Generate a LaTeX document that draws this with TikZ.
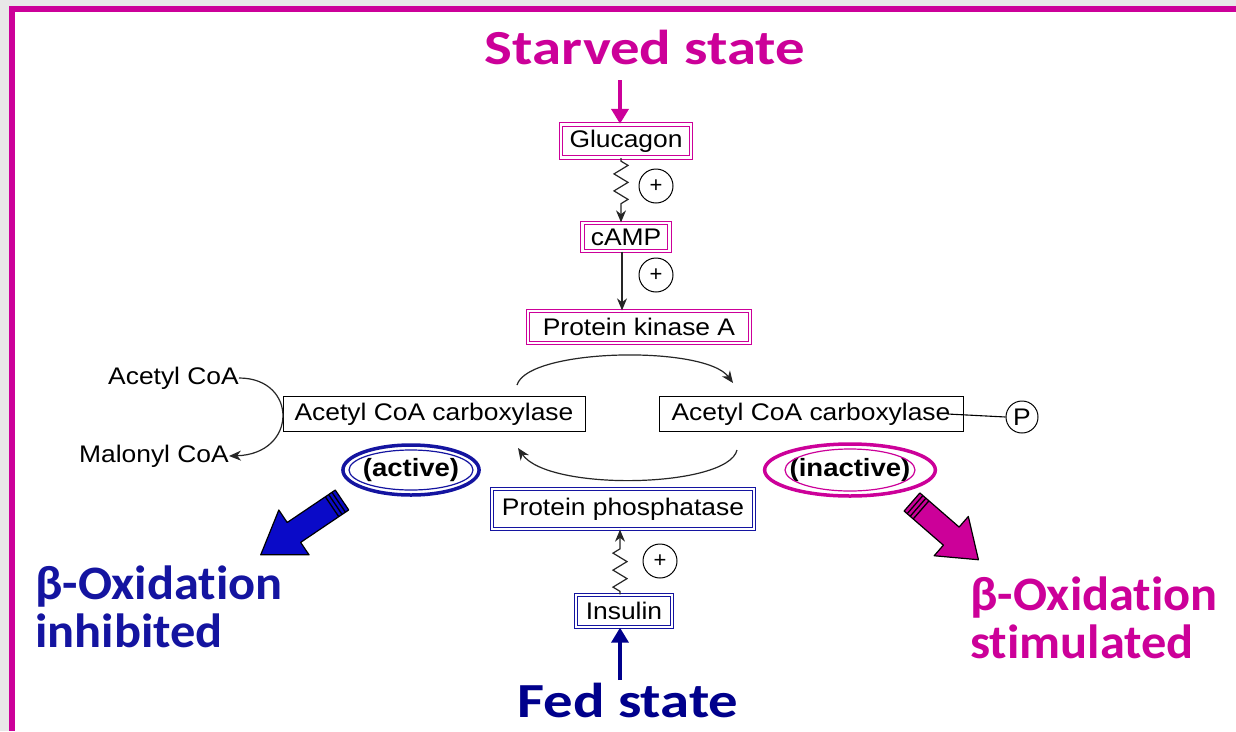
\documentclass[tikz,border=0pt]{standalone}
\usepackage{fontspec}
\setmainfont{Liberation Sans}
\newfontfamily\boxfont[FakeStretch=1.1]{Liberation Sans}
\newfontfamily\titlefont[FakeStretch=1.2,Ligatures=NoCommon]{Carlito}
\newfontfamily\sidefont[FakeStretch=1.05,Ligatures=NoCommon]{Carlito}
\usetikzlibrary{arrows.meta,decorations.pathmorphing,shapes.geometric,calc}
\definecolor{mag}{RGB}{204,0,153}
\definecolor{navyt}{RGB}{0,0,140}
\definecolor{bluel}{RGB}{20,20,160}
\definecolor{bluef}{RGB}{10,10,200}
\definecolor{bggray}{RGB}{232,232,232}
\begin{document}
\begin{tikzpicture}[x=1pt,y=-1pt,
  txt/.style={font=\boxfont\fontsize{24}{28}\selectfont},
  plainbox/.style={txt,draw=black,line width=1pt,inner sep=0pt},
  magbox/.style={txt,draw=mag,double=white,double distance=2.2pt,line width=1.3pt,inner sep=0pt},
  bluebox/.style={txt,draw=bluel,double=white,double distance=2.2pt,line width=1.3pt,inner sep=0pt},
  plus/.style={circle,draw=black,line width=1pt,minimum size=34pt,inner sep=0pt,font=\fontsize{22}{22}\selectfont},
  title/.style={font=\titlefont\bfseries\fontsize{49}{50}\selectfont},
  side/.style={font=\sidefont\bfseries\fontsize{48}{50}\selectfont},
  conn/.style={draw=black!85,line width=1.2pt,-{Stealth[length=12pt,width=10pt]}},
  squig/.style={conn,decorate,decoration={zigzag,amplitude=7pt,segment length=17pt,pre length=3pt,post length=11pt}},
  bigarrow/.style={line width=4pt,-{Triangle[length=15pt,width=17pt]}},
]
\useasboundingbox (0,0) rectangle (1236,731);
\fill[bggray] (0,0) rectangle (1236,731);
\fill[white] (12,9) rectangle (1236,731);
\fill[mag] (9,6) rectangle (1236,12);
\fill[mag] (9,6) rectangle (15,731);

% titles
\node[title,text=mag] (starved) at (645,47) {Starved state};
\node[title,text=navyt] (fed) at (628,700) {Fed state};
\node[side,text=bluel,align=left,anchor=north west,inner sep=0pt] (betaL) at (35,566) {β-Oxidation\\[-2pt]inhibited};
\node[side,text=mag,align=left,anchor=north west,inner sep=0pt] (betaR) at (970,577) {β-Oxidation\\[-2pt]stimulated};

% boxes
\node[magbox,minimum width=130pt,minimum height=33pt] (gluc) at (626,141) {Glucagon};
\node[magbox,minimum width=87pt,minimum height=28pt] (camp) at (626,237) {cAMP};
\node[magbox,minimum width=222pt,minimum height=32pt] (pka) at (639,327) {Protein kinase A};
\node[plainbox,minimum width=302pt,minimum height=35pt] (accL) at (434,414) {Acetyl CoA carboxylase};
\node[plainbox,minimum width=304pt,minimum height=35pt] (accR) at (811,414) {Acetyl CoA carboxylase};
\node[circle,draw=black,line width=1pt,minimum size=32pt,inner sep=0pt,txt] (P) at (1022,417) {P};
\node[bluebox,minimum width=262pt,minimum height=40pt] (pp) at (623,509) {Protein phosphatase};
\node[bluebox,minimum width=96pt,minimum height=32pt] (ins) at (624,611) {Insulin};

% plus signs
\node[plus] (p1) at (656,186) {+};
\node[plus] (p2) at (656,275) {+};
\node[plus] (p3) at (660,561) {+};

% side labels
\node[txt,anchor=east,inner sep=0pt] (acoa) at (239,378) {Acetyl CoA};
\node[txt,anchor=east,inner sep=0pt] (mcoa) at (229,456) {Malonyl CoA};

% ellipses
\node[ellipse,draw=bluel,line width=3.5pt,minimum width=136pt,minimum height=50pt,inner sep=0pt,font=\boxfont\bfseries\fontsize{25}{28}\selectfont] (active) at (411,470) {(active)};
\draw[bluel,line width=1.2pt] (active.center) ellipse [x radius=62, y radius=20];
\node[ellipse,draw=mag,line width=3.5pt,minimum width=142pt,minimum height=52pt,inner sep=0pt,font=\boxfont\bfseries\fontsize{25}{28}\selectfont] (inactive) at (850,470) {(inactive)};
\draw[mag,line width=1.2pt] (inactive.center) ellipse [x radius=65, y radius=21];

% connectors
\coordinate (s1) at (620,80);
\draw[bigarrow,mag] (s1) -- (s1 |- gluc.north);
\draw[squig] ($(gluc.south)+(-5,0)$) -- ($(camp.north)+(-5,0)$);
\draw[conn] ($(camp.south)+(-4,0)$) -- ($(pka.north)+(-17,0)$);
\draw[squig] ($(ins.north)+(-4,0)$) -- ($(pp.south)+(-3,0)$);
\coordinate (f1) at (620,680);
\draw[bigarrow,navyt,line width=3.5pt] (f1) -- (f1 |- ins.south);

\coordinate (t1) at (517,385);
\coordinate (t2) at (733,383);
\draw[conn] (t1) .. controls (528,348) and (705,345) .. (t2);
\coordinate (b1) at (737,450);
\coordinate (b2) at (518,448);
\draw[conn] (b1) .. controls (728,488) and (548,492) .. (b2);
\draw[conn] (acoa.east) .. controls (298,378) and (298,454) .. (mcoa.east);
\draw[black,line width=1.1pt] ($(accR.east)+(-16,0)$) -- (P.west);

% block arrows
\begin{scope}[shift={(342,500)},rotate=214]
  \draw[fill=bluef,line width=1.2pt,join=round] (0,-12) -- (58,-12) -- (58,-27) -- (98,0) -- (58,27) -- (58,12) -- (0,12) -- cycle;
  \foreach \s in {4,8,12} \draw[black,line width=1.3pt] (\s,-12) -- (\s,12);
\end{scope}
\begin{scope}[shift={(912,502)},rotate=-41]
  \draw[fill=mag,line width=1.2pt,join=round] (0,-12) -- (52,-12) -- (52,-26) -- (88,0) -- (52,26) -- (52,12) -- (0,12) -- cycle;
  \foreach \s in {4,8,12} \draw[black,line width=1.3pt] (\s,-12) -- (\s,12);
\end{scope}
\end{tikzpicture}
\end{document}
